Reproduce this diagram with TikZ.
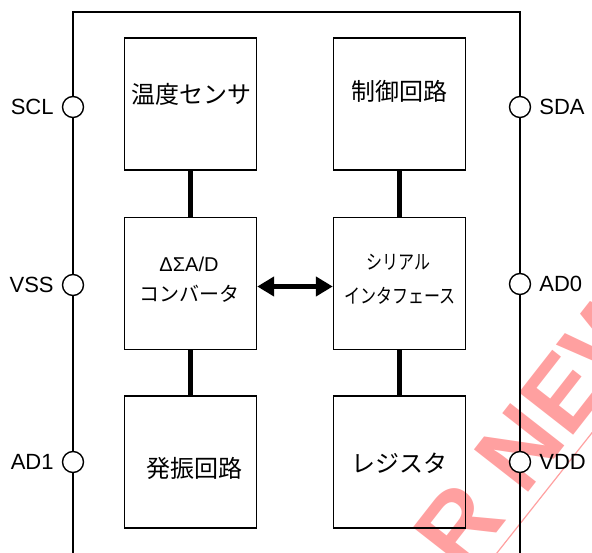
\documentclass[tikz,border=0pt]{standalone}
\usepackage{fontspec}
\setmainfont{Liberation Sans}
\newfontfamily\jpfont{Noto Sans CJK JP}
\usepackage{tikz}
\usetikzlibrary{positioning, arrows.meta}

\definecolor{stamp}{RGB}{255,160,160}

\begin{document}
\begin{tikzpicture}[x=1pt, y=-1pt,
block/.style = {draw, line width=1.4pt, minimum width=132pt, minimum height=132pt, inner sep=0pt},
block text/.style = {text centered, inner sep=0pt, font=\jpfont\fontsize{24}{26}\selectfont},
adc text/.style = {text centered, inner sep=0pt, font=\fontsize{20}{22}\selectfont},
pin/.style = {draw, circle, line width=1.4pt, fill=white, minimum size=21pt, inner sep=0pt},
pin label/.style = {inner sep=0pt, font=\fontsize{22}{24}\selectfont},
link/.style = {line width=4.5pt}
]

\useasboundingbox (0,0) rectangle (592,553);

% watermark
\begin{scope}
\clip (0,0) rectangle (592,553);
\node (stampText) at (463,576) [anchor=base west, rotate=52, text=stamp, inner sep=0pt,
  font=\bfseries\fontsize{100}{100}\selectfont] {R NEW};
\draw[stamp, line width=1.2pt] (470,587) -- (610,410);
\end{scope}

% package outline
\draw[line width=1.6pt] (73,560) -- (73,12) -- (520,12) -- (520,560);

% blocks
\node (temp)   at (190.5,104) [block] {};
\node (ctrl)   at (399.5,104) [block] {};
\node (adc)    at (190.5,283.5) [block] {};
\node (serial) at (399.5,283.5) [block] {};
\node (osc)    at (190.5,462) [block] {};
\node (reg)    at (399.5,462) [block] {};

\node (tempT) at (191.5,94) [block text] {温度センサ};
\node (ctrlT) at (399.5,91) [block text] {制御回路};
\node (adcT1) at (189,264) [adc text] {ΔΣA/D};
\node (adcT2) at (189,294) [block text, font=\jpfont\fontsize{20}{22}\selectfont] {コンバータ};
\node (serT1) at (398.5,262.5) [block text] {\scalebox{0.8}[1]{\fontsize{20}{22}\selectfont シリアル}};
\node (serT2) at (400,296) [block text] {\scalebox{0.8}[1]{\fontsize{20}{22}\selectfont インタフェース}};
\node (oscT)  at (194,468) [block text] {発振回路};
\node (regT)  at (399,463) [block text] {レジスタ};

% internal links
\draw[link] (temp) -- (adc);
\draw[link] (adc) -- (osc);
\draw[link] (ctrl) -- (serial);
\draw[link] (serial) -- (reg);
\draw[link, {Triangle[length=17pt,width=19pt]}-{Triangle[length=17pt,width=19pt]}]
  ([yshift=-3pt]adc.east) -- ([yshift=-3pt]serial.west);

% pins
\node (scl) at (73,107) [pin] {};
\node (vss) at (73,285) [pin] {};
\node (ad1) at (73,462) [pin] {};
\node (sda) at (520,107) [pin] {};
\node (ad0) at (520,284) [pin] {};
\node (vdd) at (520,462) [pin] {};

\node (sclL) [pin label, left=8pt of scl] {SCL};
\node (vssL) [pin label, left=8pt of vss] {VSS};
\node (ad1L) [pin label, left=8pt of ad1] {AD1};
\node (sdaL) [pin label, right=8pt of sda] {SDA};
\node (ad0L) [pin label, right=8pt of ad0] {AD0};
\node (vddL) [pin label, right=8pt of vdd] {VDD};
\end{tikzpicture}
\end{document}
